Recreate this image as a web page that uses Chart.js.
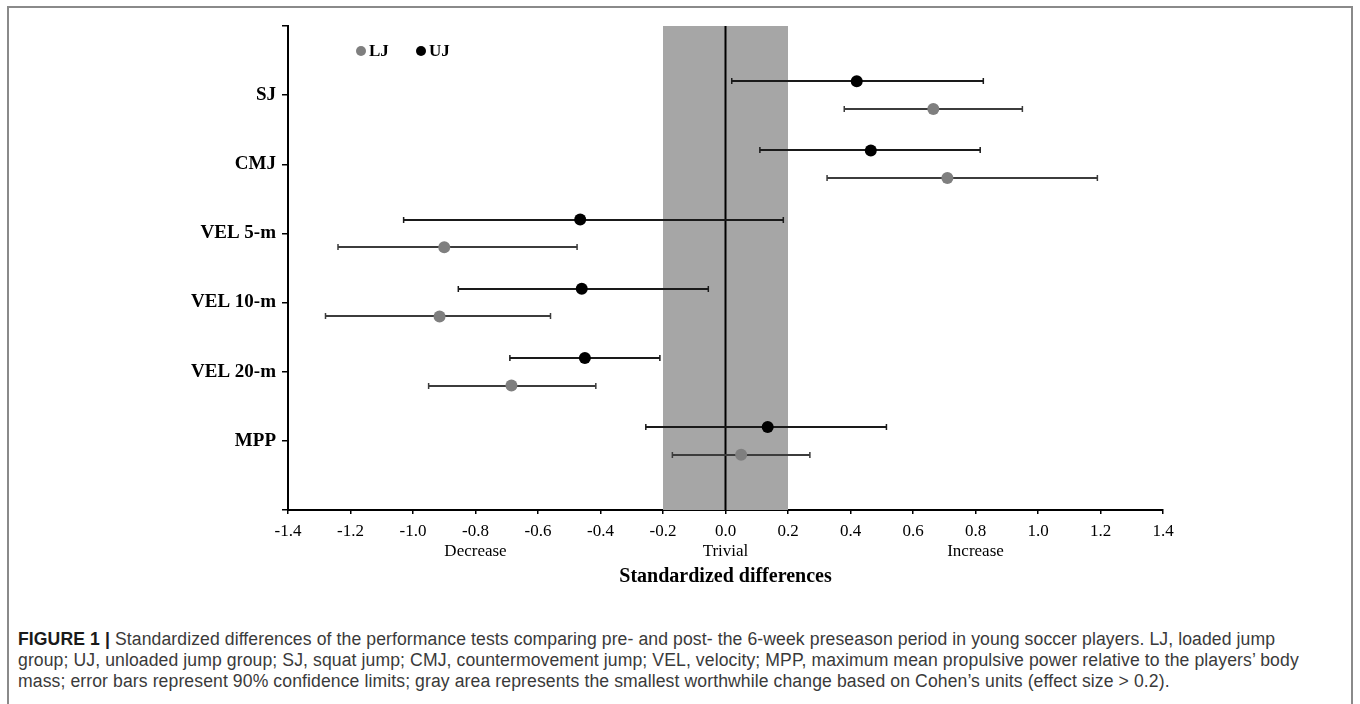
<!DOCTYPE html>
<html>
<head>
<meta charset="utf-8">
<title>Standardized differences</title>
<script src="https://cdn.jsdelivr.net/npm/chart.js@4.4.1/dist/chart.umd.min.js"></script>
<style>
    html, body { margin: 0; padding: 0; background: #fff; }
    body { width: 1360px; height: 704px; position: relative; overflow: hidden; }
    #frame { position: absolute; left: 7px; top: 6px; width: 1342px; height: 720px; border: 2px solid #8a8a8a; }
    #chartWrap { position: absolute; left: 0; top: 0; width: 1360px; height: 600px; }
    .legend { position: absolute; top: 41px; font: bold 17px "Liberation Serif", serif; color: #000; line-height: 20px; }
    .legend i { display: inline-block; width: 10px; height: 10px; border-radius: 50%; margin-right: 3px; vertical-align: 0px; }
    #caption { position: absolute; left: 18px; top: 629px; font: 17.6px "Liberation Sans", Arial, sans-serif; letter-spacing: 0.1px; color: #3a3a3a; line-height: 21px; white-space: nowrap; }
    #caption b { color: #1a1a1a; }
</style>
</head>
<body>
<div id="frame"></div>
<div id="chartWrap"><canvas id="mainChart" width="1360" height="600"></canvas></div>
<div class="legend" style="left:356px"><i style="background:#7f7f7f"></i>LJ</div>
<div class="legend" style="left:416px"><i style="background:#000"></i>UJ</div>
<div id="caption">
    <b>FIGURE 1 |</b> Standardized differences of the performance tests comparing pre- and post- the 6-week preseason period in young soccer players. LJ, loaded jump<br>
    group; UJ, unloaded jump group; SJ, squat jump; CMJ, countermovement jump; VEL, velocity; MPP, maximum mean propulsive power relative to the players’ body<br>
    mass; error bars represent 90% confidence limits; gray area represents the smallest worthwhile change based on Cohen’s units (effect size &gt; 0.2).
</div>
<script>
// Kategorien (von oben nach unten)
const categories = ['SJ', 'CMJ', 'VEL 5-m', 'VEL 10-m', 'VEL 20-m', 'MPP'];

// UJ: unloaded jump group
const ujMean = [0.42, 0.465, -0.465, -0.46, -0.45, 0.135];
const ujLow  = [0.02, 0.11, -1.03, -0.855, -0.69, -0.255];
const ujHigh = [0.825, 0.815, 0.185, -0.055, -0.21, 0.515];

// LJ: loaded jump group
const ljMean = [0.665, 0.71, -0.90, -0.915, -0.685, 0.05];
const ljLow  = [0.38, 0.325, -1.24, -1.28, -0.95, -0.17];
const ljHigh = [0.95, 1.19, -0.475, -0.56, -0.415, 0.27];

// Achse und Bereich "Trivial"
const xTicksText = { '-0.8': 'Decrease', '0.0': 'Trivial', '0.8': 'Increase' };
const trivialZone = [-0.2, 0.2];

Chart.defaults.font.family = '"Liberation Serif", "Times New Roman", serif';
Chart.defaults.color = '#000';

function buildPoints(mean, low, high, offset) {
    return mean.map((m, i) => ({ x: m, y: i + 1 + offset, low: low[i], high: high[i] }));
}

function fmtTick(v) {
    const r = Math.round(v * 10) / 10;
    return (Math.abs(r) < 1e-9 ? 0 : r).toFixed(1);
}

// Grauer Bereich, Nulllinie, Fehlerbalken
const backdrop = {
    id: 'backdrop',
    beforeDatasetsDraw(chart) {
        const { ctx, chartArea: a, scales: { x } } = chart;
        ctx.save();
        const x0 = x.getPixelForValue(trivialZone[0]);
        const x1 = x.getPixelForValue(trivialZone[1]);
        ctx.fillStyle = '#a6a6a6';
        ctx.fillRect(x0, a.top, x1 - x0, a.bottom - a.top);

        const zx = x.getPixelForValue(0);
        ctx.strokeStyle = '#000';
        ctx.lineWidth = 2;
        ctx.beginPath();
        ctx.moveTo(zx, a.top);
        ctx.lineTo(zx, a.bottom);
        ctx.stroke();

        chart.data.datasets.forEach((ds, i) => {
            const meta = chart.getDatasetMeta(i);
            ctx.strokeStyle = ds.barColor;
            ctx.lineWidth = 2;
            ds.data.forEach((p, j) => {
                const y = Math.round(meta.data[j].y);
                const xl = x.getPixelForValue(p.low);
                const xh = x.getPixelForValue(p.high);
                ctx.beginPath();
                ctx.moveTo(xl, y);
                ctx.lineTo(xh, y);
                ctx.stroke();
                ctx.lineWidth = 1.5;
                ctx.beginPath();
                ctx.moveTo(xl, y - 3); ctx.lineTo(xl, y + 3);
                ctx.moveTo(xh, y - 3); ctx.lineTo(xh, y + 3);
                ctx.stroke();
                ctx.lineWidth = 2;
            });
        });
        ctx.restore();
    }
};

new Chart(document.getElementById('mainChart').getContext('2d'), {
    type: 'scatter',
    data: {
        datasets: [
            {
                label: 'LJ',
                data: buildPoints(ljMean, ljLow, ljHigh, 0.2),
                backgroundColor: '#7f7f7f',
                borderColor: '#7f7f7f',
                barColor: '#3c3c3c',
                pointRadius: 6,
                borderWidth: 0
            },
            {
                label: 'UJ',
                data: buildPoints(ujMean, ujLow, ujHigh, -0.2),
                backgroundColor: '#000',
                borderColor: '#000',
                barColor: '#1a1a1a',
                pointRadius: 6,
                borderWidth: 0
            }
        ]
    },
    options: {
        responsive: false,
        animation: false,
        devicePixelRatio: 1,
        layout: { padding: { left: 0, top: 26, right: 197, bottom: 0 } },
        plugins: {
            legend: { display: false },
            tooltip: { enabled: false }
        },
        scales: {
            x: {
                type: 'linear',
                min: -1.4,
                max: 1.4,
                afterFit: (scale) => { scale.height = 90; },
                ticks: {
                    stepSize: 0.2,
                    autoSkip: false,
                    maxRotation: 0,
                    padding: 7,
                    font: { size: 17, lineHeight: 1.2 },
                    callback: (v) => {
                        const t = fmtTick(v);
                        return xTicksText[t] ? [t, xTicksText[t]] : t;
                    }
                },
                grid: { drawOnChartArea: false, tickLength: 4, color: '#000', lineWidth: 1.5 },
                border: { color: '#000', width: 2 },
                title: {
                    display: true,
                    text: 'Standardized differences',
                    font: { size: 20, weight: 'bold' },
                    padding: { top: 0, bottom: 11 }
                }
            },
            y: {
                type: 'linear',
                min: 0,
                max: 7,
                reverse: true,
                afterFit: (scale) => { scale.width = 288; },
                ticks: {
                    stepSize: 1,
                    padding: 6,
                    font: { size: 19, weight: 'bold' },
                    callback: (v) => (Number.isInteger(v) && v >= 1 && v <= categories.length) ? categories[v - 1] : ''
                },
                grid: { drawOnChartArea: false, tickLength: 6, color: '#000', lineWidth: 1.5 },
                border: { color: '#000', width: 2 }
            }
        }
    },
    plugins: [backdrop]
});
</script>
</body>
</html>
